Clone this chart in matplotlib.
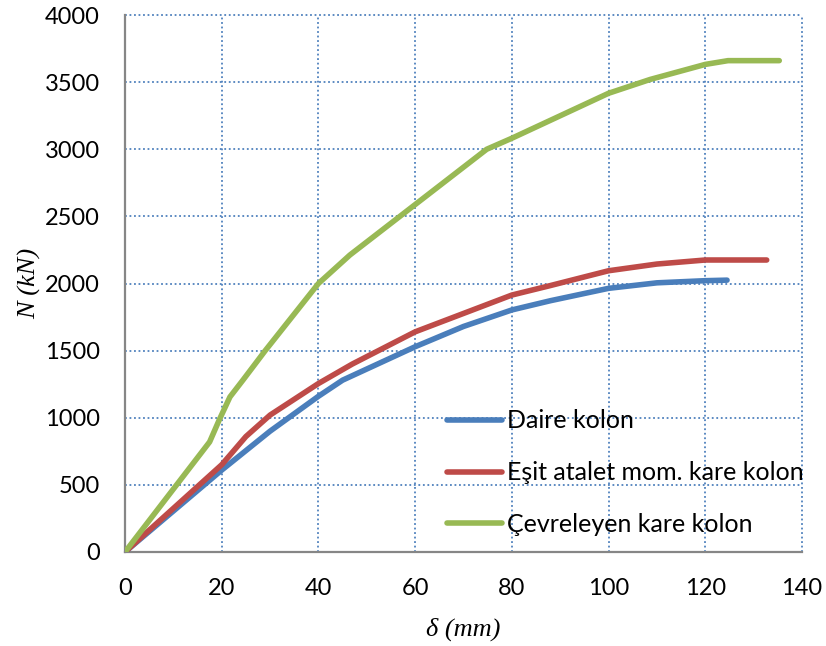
import matplotlib
matplotlib.use("Agg")
import matplotlib.pyplot as plt

# Data
daire_x = [0, 20, 30, 40, 45, 60, 70, 80, 88, 100, 110, 120, 124.5]
daire_y = [0, 610, 900, 1160, 1280, 1529, 1680, 1803, 1872, 1964, 2005, 2021, 2025]

esit_x = [0, 20, 25, 30, 40, 47, 60, 80, 88, 100, 110, 120, 132.7]
esit_y = [0, 650, 860, 1020, 1255, 1400, 1640, 1914, 1985, 2095, 2145, 2175, 2175]

cevre_x = [0, 17.5, 19.5, 21.7, 24.4, 29, 40, 46.5, 74.8, 80, 100, 108.6, 120, 124.7, 135.3]
cevre_y = [0, 820, 985, 1155, 1281, 1500, 2000, 2212, 3000, 3082, 3417, 3520, 3632, 3660, 3660]

labels = ["Daire kolon", "Eşit atalet mom. kare kolon", "Çevreleyen kare kolon"]
colors = ["#4A7EBB", "#BE4B48", "#98B954"]

x_ticks = [0, 20, 40, 60, 80, 100, 120, 140]
y_ticks = [0, 500, 1000, 1500, 2000, 2500, 3000, 3500, 4000]

fig = plt.figure(figsize=(8.26, 6.46), dpi=100)
ax = fig.add_axes([125/826, 1-552/646, (802-125)/826, (552-15)/646])

for xs, ys, lab, c in zip([daire_x, esit_x, cevre_x], [daire_y, esit_y, cevre_y], labels, colors):
    ax.plot(xs, ys, color=c, lw=4.0, label=lab, solid_capstyle='round', solid_joinstyle='round', zorder=3)

ax.set_xlim(0, 140)
ax.set_ylim(0, 4000)
ax.set_xticks(x_ticks)
ax.set_yticks(y_ticks)
ax.grid(True, color="#4F81BD", linestyle=(0, (1, 1.5)), linewidth=1.3, zorder=1)
for g in ax.get_xgridlines() + ax.get_ygridlines():
    g.set_clip_on(False)
ax.tick_params(length=0, labelsize=17)
for lbl in ax.get_xticklabels() + ax.get_yticklabels():
    lbl.set_fontfamily("Lato")
ax.tick_params(axis='y', pad=18)
ax.tick_params(axis='x', pad=19)

for s in ["top", "right"]:
    ax.spines[s].set_visible(False)
for s in ["left", "bottom"]:
    ax.spines[s].set_color("#868686")
    ax.spines[s].set_linewidth(1.6)
    ax.spines[s].set_zorder(2)

ax.set_xlabel("δ (mm)", fontfamily="Liberation Serif", fontstyle="italic", fontsize=19, labelpad=13)
ax.set_ylabel("N (kN)", fontfamily="Liberation Serif", fontstyle="italic", fontsize=19, labelpad=3)

leg = ax.legend(loc="upper left", bbox_to_anchor=(434/826, 1-397/646), bbox_transform=fig.transFigure,
                frameon=False, prop={"family": "Lato", "size": 18},
                handlelength=2.2, handletextpad=0.2, labelspacing=1.15, borderpad=0)

fig.savefig("out.png", dpi=100)
